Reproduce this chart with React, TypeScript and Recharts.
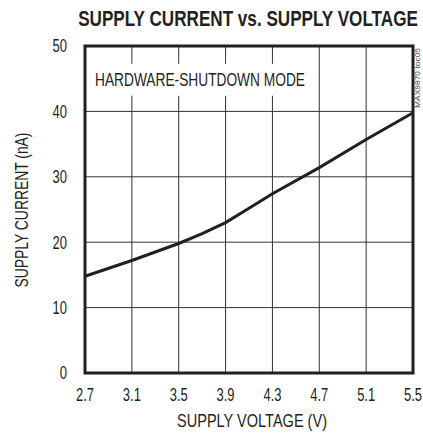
import React from "react";
import {
  LineChart, Line, XAxis, YAxis, CartesianGrid, ReferenceArea
} from "recharts";

// supply voltage (V) vs hardware-shutdown supply current (nA)
const voltage = [2.7, 3.1, 3.3, 3.5, 3.7, 3.9, 4.1, 4.3, 4.7, 5.1, 5.5];
const current = [14.8, 17.2, 18.5, 19.8, 21.3, 23.0, 25.2, 27.4, 31.4, 35.7, 39.8];
const xTicks = [2.7, 3.1, 3.5, 3.9, 4.3, 4.7, 5.1, 5.5];
const yTicks = [0, 10, 20, 30, 40, 50];

const data = voltage.map((v, i) => ({ v, i: current[i] }));

const FONT = "'Liberation Sans', Arial, sans-serif";
const INK = "#231f20";
const SQUEEZE = 0.72;

// narrow-looking tick text (the reference uses a condensed face)
const XTick = (props: any) => {
  const { x, y, payload } = props;
  return (
    <g transform={`translate(${x},${y})`}>
      <text transform={`scale(${SQUEEZE},1)`} textAnchor="middle" dy="0.71em" fill={INK} fontSize={18} fontFamily={FONT}>
        {Number(payload.value).toFixed(1)}
      </text>
    </g>
  );
};

const YTick = (props: any) => {
  const { x, y, payload } = props;
  return (
    <g transform={`translate(${x},${y})`}>
      <text transform={`scale(${SQUEEZE},1)`} textAnchor="end" dy="0.355em" fill={INK} fontSize={18} fontFamily={FONT}>
        {payload.value}
      </text>
    </g>
  );
};

export default function App() {
  return (
    <div style={{ position: "fixed", left: 0, top: 0, width: 423, height: 434, background: "#fff" }}>
      <LineChart
        width={423}
        height={434}
        data={data}
        margin={{ top: 46, right: 10, bottom: 0, left: 0 }}
      >
        <CartesianGrid stroke="#333" strokeWidth={1} />
        <XAxis
          dataKey="v"
          type="number"
          domain={[2.7, 5.5]}
          ticks={xTicks}
          axisLine={false}
          tickLine={false}
          tickSize={0}
          tickMargin={15}
          tick={<XTick />}
          height={61}
        />
        <YAxis
          type="number"
          domain={[0, 50]}
          ticks={yTicks}
          axisLine={false}
          tickLine={false}
          tickSize={0}
          tickMargin={18}
          tick={<YTick />}
          width={85}
        />
        {/* white patch behind the annotation, breaks the vertical grid */}
        <ReferenceArea x1={2.76} x2={4.6} y1={42.4} y2={47.3} fill="#fff" fillOpacity={1} stroke="none" />
        <ReferenceArea x1={2.7} x2={5.5} y1={0} y2={50} fill="none" stroke={INK} strokeWidth={3} />
        <Line
          type="linear"
          dataKey="i"
          stroke={INK}
          strokeWidth={3}
          dot={false}
          isAnimationActive={false}
        />
      </LineChart>
      <svg width={423} height={434} style={{ position: "absolute", left: 0, top: 0, pointerEvents: "none" }} fontFamily={FONT}>
        <text transform="translate(248,26) scale(0.76,1)" textAnchor="middle" fontWeight="bold" fontSize={22} fill={INK} textLength={447} lengthAdjust="spacingAndGlyphs">
          SUPPLY CURRENT vs. SUPPLY VOLTAGE
        </text>
        <text x={200} y={86} textAnchor="middle" fontSize={19} fill={INK} textLength={210} lengthAdjust="spacingAndGlyphs">
          HARDWARE-SHUTDOWN MODE
        </text>
        <text x={252} y={427} textAnchor="middle" fontSize={19} fill={INK} textLength={150} lengthAdjust="spacingAndGlyphs">
          SUPPLY VOLTAGE (V)
        </text>
        <text transform="translate(28,210) rotate(-90)" textAnchor="middle" fontSize={19} fill={INK} textLength={155} lengthAdjust="spacingAndGlyphs">
          SUPPLY CURRENT (nA)
        </text>
        <text transform="translate(420,78) rotate(-90)" textAnchor="middle" fontSize={7} fill="#444" textLength={60} lengthAdjust="spacingAndGlyphs">
          MAX9870 toc05
        </text>
      </svg>
    </div>
  );
}
